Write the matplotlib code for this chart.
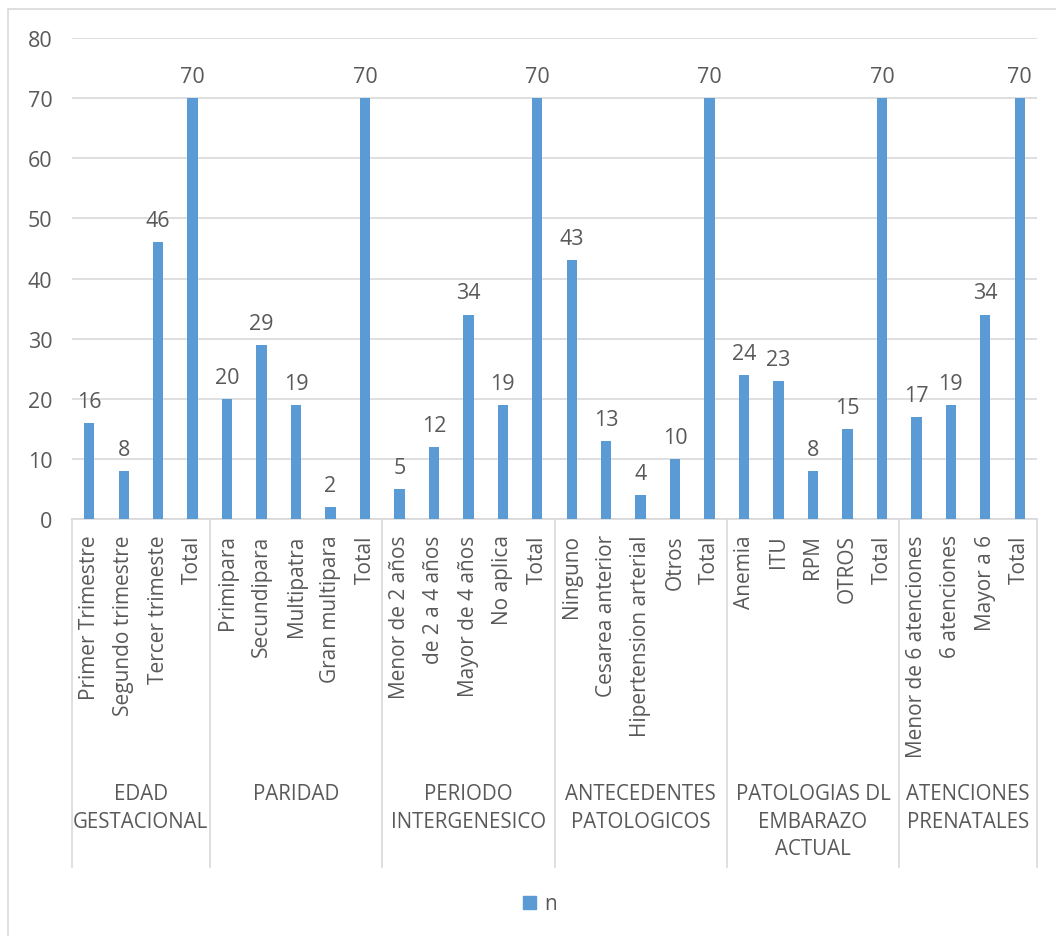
import numpy as np
import matplotlib
matplotlib.use('Agg')
import matplotlib.pyplot as plt
from matplotlib.transforms import blended_transform_factory
from matplotlib.patches import Rectangle

plt.rcParams['font.family'] = ['Open Sans', 'DejaVu Sans']

groups = ['EDAD\nGESTACIONAL', 'PARIDAD', 'PERIODO\nINTERGENESICO',
          'ANTECEDENTES\nPATOLOGICOS', 'PATOLOGIAS DL\nEMBARAZO\nACTUAL',
          'ATENCIONES\nPRENATALES']
edad_lab = ['Primer Trimestre', 'Segundo trimestre', 'Tercer trimeste', 'Total']
edad_val = [16, 8, 46, 70]
paridad_lab = ['Primipara', 'Secundipara', 'Multipatra', 'Gran multipara', 'Total']
paridad_val = [20, 29, 19, 2, 70]
periodo_lab = ['Menor de 2 años', 'de 2 a 4 años', 'Mayor de 4 años', 'No aplica', 'Total']
periodo_val = [5, 12, 34, 19, 70]
antec_lab = ['Ninguno', 'Cesarea anterior', 'Hipertension arterial', 'Otros', 'Total']
antec_val = [43, 13, 4, 10, 70]
patol_lab = ['Anemia', 'ITU', 'RPM', 'OTROS', 'Total']
patol_val = [24, 23, 8, 15, 70]
atenc_lab = ['Menor de 6 atenciones', '6 atenciones', 'Mayor a 6', 'Total']
atenc_val = [17, 19, 34, 70]

all_lab = [edad_lab, paridad_lab, periodo_lab, antec_lab, patol_lab, atenc_lab]
all_val = [edad_val, paridad_val, periodo_val, antec_val, patol_val, atenc_val]

labels = sum(all_lab, [])
values = sum(all_val, [])
x = np.arange(len(values))

blue = '#5B9BD5'
grid = '#D9D9D9'
txt = '#595959'

W, H = 1056, 937
fig = plt.figure(figsize=(W / 100, H / 100), dpi=100)
# outer chart border
fig.patches.append(Rectangle((8 / W, -0.01), 1.05, 1 - 10 / H + 0.01,
                             transform=fig.transFigure, fill=False,
                             edgecolor=grid, lw=1.2))

ax = fig.add_axes([72 / W, 1 - 520 / H, 965 / W, 481 / H])
ax.bar(x, values, width=0.3, color=blue, zorder=3)
ax.set_xlim(-0.5, len(values) - 0.5)
ax.set_ylim(0, 80)
ax.set_yticks(range(0, 81, 10))
ax.yaxis.grid(True, color=grid, lw=1.2)
ax.set_axisbelow(True)
for s in ['top', 'right', 'left']:
    ax.spines[s].set_visible(False)
ax.spines['bottom'].set_color(grid)
ax.spines['bottom'].set_linewidth(1.2)
ax.tick_params(axis='y', length=0, pad=14, labelsize=15.5, labelcolor=txt)
ax.set_xticks(x)
ax.set_xticklabels(labels, rotation=90, va='top')
ax.tick_params(axis='x', length=0, pad=11, labelsize=15, labelcolor=txt)

for xi, v in zip(x, values):
    ax.annotate(str(v), (xi, v), xytext=(0, 8), textcoords='offset points',
                ha='center', va='bottom', fontsize=15.5, color=txt)

tr = blended_transform_factory(ax.transData, ax.transAxes)
line_bottom = (520 - 868) / 481
start = -0.5
bounds = [start]
for vals in all_val:
    start += len(vals)
    bounds.append(start)
for b in bounds:
    ax.plot([b, b], [0, line_bottom], color=grid, lw=1.2, transform=tr, clip_on=False)
for g, lo, hi in zip(groups, bounds[:-1], bounds[1:]):
    ax.text((lo + hi) / 2, (520 - 784) / 481, g, transform=tr, ha='center', va='top',
            fontsize=14.8, color=txt, linespacing=1.42)

fig.legend(handles=[Rectangle((0, 0), 1, 1, color=blue)], labels=['n'],
           loc='center', bbox_to_anchor=(540 / W, 1 - 905 / H), frameon=False,
           fontsize=15, labelcolor=txt, handlelength=0.6, handleheight=0.6,
           handletextpad=0.4)

fig.savefig('out.png', dpi=100)
